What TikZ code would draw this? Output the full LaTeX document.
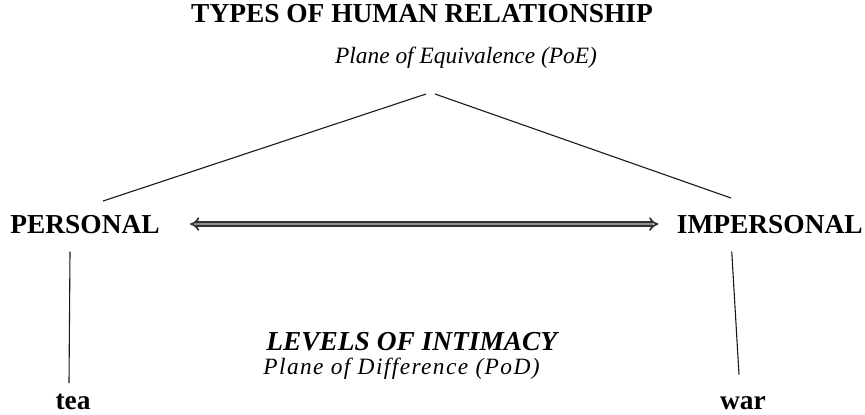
\documentclass[tikz,border=0pt]{standalone}
\usepackage{fontspec}
\setmainfont{Liberation Serif}
\usetikzlibrary{arrows.meta, positioning}
\definecolor{mydark}{RGB}{25,25,25}
\definecolor{mygray}{RGB}{140,140,140}
\definecolor{arrowedge}{RGB}{50,50,50}
\tikzset{
  heading/.style={font=\fontsize{13.7}{16}\selectfont\bfseries,
    inner sep=0pt, anchor=base, color=black},
  planetext/.style={font=\fontsize{11.7}{14}\selectfont\itshape,
    inner sep=0pt, anchor=base, color=black},
  levels/.style={font=\fontsize{13.7}{16}\selectfont\bfseries\itshape,
    inner sep=0pt, anchor=base, color=black},
  spaced/.style={font=\fontsize{11.7}{14}\selectfont\itshape\addfontfeatures{LetterSpace=6},
    inner sep=0pt, anchor=base, color=black},
  branch/.style={line width=0.55pt, color=mydark},
  twoway/.style={{Implies}-{Implies}, draw=arrowedge, line width=0.85pt,
    double=mygray, double distance=1.4pt}
}

\begin{document}
\begin{tikzpicture}[x=0.5pt, y=-0.5pt]
  \useasboundingbox (0,0) rectangle (865,414);

  \node[heading] (title) at (422,22) {TYPES OF HUMAN RELATIONSHIP};
  \node[planetext] (poe) at (466,63) {Plane of Equivalence (PoE)};
  \node[heading, anchor=base west] (personal) at (10,233) {PERSONAL};
  \node[heading, anchor=base east] (impersonal) at (863,233) {IMPERSONAL};
  \node[levels, anchor=base west] (levels) at (266,350) {LEVELS OF INTIMACY};
  \node[spaced, anchor=base west] (pod) at (263,374) {Plane of Difference (PoD)};
  \node[heading] (tea) at (73,409) {tea};
  \node[heading] (war) at (743,409) {war};

  \coordinate (apexL) at (426,94);
  \coordinate (apexR) at (435,94);
  \coordinate (footL) at (103,201);
  \coordinate (footR) at (731,198);

  \draw[branch] (apexL) -- (footL);
  \draw[branch] (apexR) -- (footR);
  \draw[twoway] ([xshift=15pt]personal.east) -- ([xshift=-9pt]impersonal.west);
  \draw[branch] ([xshift=-7.5pt, yshift=-9pt]personal.south) -- ([xshift=-2pt, yshift=5pt]tea.north);
  \draw[branch] ([xshift=-19pt, yshift=-9pt]impersonal.south) -- ([xshift=-2pt, yshift=10.5pt]war.north);
\end{tikzpicture}
\end{document}
